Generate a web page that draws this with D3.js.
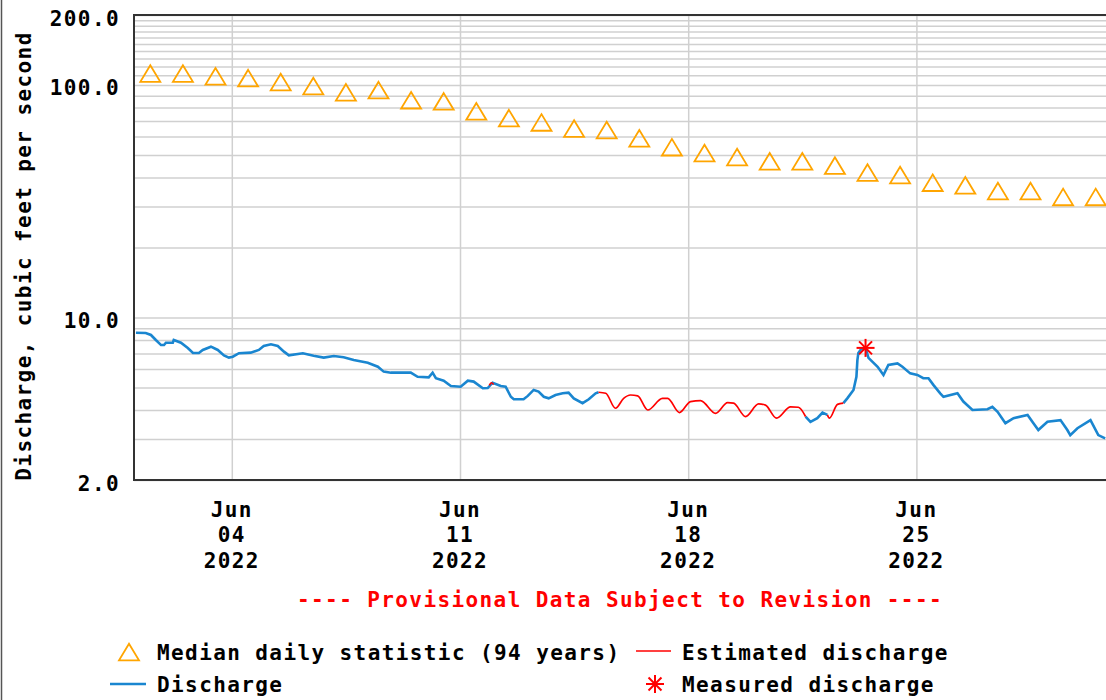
<!DOCTYPE html>
<html><head><meta charset="utf-8">
<script src="https://cdn.jsdelivr.net/npm/d3@7"></script>
<style>
body{margin:0;background:#fff;}
svg{display:block;}
text{font-family:"DejaVu Sans Mono",monospace;font-weight:bold;font-size:21px;letter-spacing:1.4px;}
</style>
</head><body>
<svg id="c" width="1106" height="700"></svg>
<script>
// ---------- data ----------
const yLabelValues = [2, 10, 100, 200];
const gridValues = [2,3,4,5,6,7,8,9,10,20,30,40,50,60,70,80,90,100,110,120,130,140,150,160,170,180,190,200];
const dateTicks = ["2022-06-04","2022-06-11","2022-06-18","2022-06-25"];
const startDate = "2022-06-01";
const endDate = "2022-07-01";

// median daily statistic (day offset from Jun 1, value cfs)
const medianDay = [0.5,1.5,2.5,3.5,4.5,5.5,6.5,7.5,8.5,9.5,10.5,11.5,12.5,13.5,14.5,15.5,16.5,17.5,18.5,19.5,20.5,21.5,22.5,23.5,24.5,25.5,26.5,27.5,28.5,29.5];
const medianVal = [112,112,109,107,103,99,93,95,86,85,77,72,69,65,64,59,54,51,49,47,47,45,42,41,38,37,35,35,33,33];

// discharge – null breaks the line
const qDay = [0.06,0.36,0.52,0.67,0.83,0.92,0.98,1.19,1.22,1.44,1.65,1.81,1.99,2.11,2.36,2.57,2.76,2.91,3.03,3.22,3.58,3.83,3.98,4.20,4.41,4.60,4.75,5.18,5.51,5.82,6.13,6.43,6.74,7.17,7.48,7.66,7.88,8.49,8.70,9.04,9.16,9.26,9.50,9.72,10.02,10.24,10.42,10.70,10.85,11.00,11.25,11.40,11.56,11.65,11.95,12.08,12.26,12.41,12.57,12.72,12.93,13.15,13.33,13.49,13.76,13.95,14.16,14.25,
  14.30,
  20.60,20.75,20.96,21.12,21.27,
  21.50,
  21.76,21.88,22.07,22.16,22.19,22.22,22.31,22.44,22.53,22.81,22.99,23.14,23.42,23.57,23.81,24.03,24.21,24.37,24.52,24.73,24.83,25.26,25.44,25.72,26.18,26.33,26.49,26.73,26.98,27.41,27.59,27.74,28.02,28.42,28.63,28.72,28.94,29.34,29.58,29.79];
const qVal = [8.60,8.58,8.41,8.00,7.61,7.61,7.79,7.79,8.00,7.79,7.39,7.04,7.04,7.25,7.49,7.25,6.87,6.72,6.78,7.02,7.06,7.25,7.54,7.67,7.54,7.13,6.87,7.02,6.85,6.72,6.83,6.74,6.56,6.39,6.14,5.85,5.79,5.79,5.56,5.53,5.79,5.48,5.35,5.07,5.04,5.35,5.30,4.96,4.97,5.24,5.07,5.04,4.56,4.45,4.45,4.60,4.88,4.80,4.56,4.49,4.64,4.72,4.75,4.49,4.28,4.45,4.72,4.77,
  null,
  3.75,3.56,3.69,3.90,3.81,
  null,
  4.28,4.49,4.88,5.56,6.56,7.04,7.32,7.39,6.70,6.14,5.66,6.25,6.35,6.14,5.75,5.66,5.48,5.48,5.13,4.72,4.56,4.72,4.35,4.00,4.03,4.13,3.93,3.51,3.69,3.81,3.51,3.28,3.56,3.62,3.28,3.12,3.34,3.62,3.12,3.02];

// estimated discharge
const estDay = [10.90,10.96,11.03,
  11.20,
  14.25,14.47,14.77,15.02,15.23,15.45,15.76,16.21,16.37,16.73,17.07,17.38,17.84,18.21,18.39,18.76,19.16,19.37,19.71,20.14,20.38,20.60,
  20.70,
  21.27,21.33,21.58,21.76];
const estVal = [5.10,5.24,5.15,
  null,
  4.77,4.72,4.07,4.49,4.64,4.60,4.00,4.49,4.49,3.90,4.35,4.39,3.87,4.30,4.28,3.75,4.25,4.20,3.69,4.13,4.11,3.75,
  null,
  3.81,3.69,4.23,4.28];

// measured discharge
const measuredDay = [22.44];
const measuredVal = [7.4];

// ---------- layout ----------
const svg = d3.select("#c");
const X0 = 134, X1 = 1112, Y0 = 15, Y1 = 480;
const C_MED = "#ffa500", C_Q = "#1a86d0", C_EST = "#ff0000", C_GRID = "#d0d0d0";

const x = d3.scaleUtc().domain([new Date(startDate), new Date(endDate)]).range([X0, X1]);
const y = d3.scaleLog().domain([2, 200]).range([Y1, Y0]);
const dayToDate = d => new Date(+new Date(startDate) + d * 864e5);

// left page border
svg.append("line").attr("x1",1.5).attr("x2",1.5).attr("y1",0).attr("y2",700)
  .attr("stroke","#555").attr("stroke-width",1.5);

// horizontal gridlines
const gy = svg.append("g").attr("transform",`translate(${X0},0)`)
  .call(d3.axisLeft(y).tickValues(gridValues).tickSize(-(X1-X0)).tickFormat(""));
gy.select(".domain").remove();
gy.selectAll("line").attr("stroke",C_GRID).attr("stroke-width",1.5);

// vertical gridlines
const gx = svg.append("g").attr("transform",`translate(0,${Y1})`)
  .call(d3.axisBottom(x).tickValues(dateTicks.map(d=>new Date(d))).tickSize(-(Y1-Y0)).tickFormat(""));
gx.select(".domain").remove();
gx.selectAll("line").attr("stroke",C_GRID).attr("stroke-width",1.5);

// frame
svg.append("rect").attr("x",X0).attr("y",Y0).attr("width",X1-X0).attr("height",Y1-Y0)
  .attr("fill","none").attr("stroke","#333").attr("stroke-width",2);

// y labels
svg.append("g").selectAll("text").data(yLabelValues).join("text")
  .attr("x",120).attr("y",d=>y(d)+10.5).attr("text-anchor","end")
  .text(d=>d3.format(".1f")(d));

// y title
svg.append("text").attr("transform","translate(31,256) rotate(-90)")
  .attr("text-anchor","middle").text("Discharge, cubic feet per second");

// x labels
const xl = svg.append("g").selectAll("g").data(dateTicks.map(d=>new Date(d))).join("g");
xl.append("text").attr("x",d=>x(d)).attr("y",517).attr("text-anchor","middle").text(d3.utcFormat("%b"));
xl.append("text").attr("x",d=>x(d)).attr("y",542).attr("text-anchor","middle").text(d3.utcFormat("%d"));
xl.append("text").attr("x",d=>x(d)).attr("y",568).attr("text-anchor","middle").text(d3.utcFormat("%Y"));

// clip
svg.append("clipPath").attr("id","clip").append("rect")
  .attr("x",X0).attr("y",Y0).attr("width",X1-X0).attr("height",Y1-Y0);
const plot = svg.append("g").attr("clip-path","url(#clip)");

// discharge line
const qData = qDay.map((d,i)=>({t:dayToDate(d), v:qVal[i]}));
const line = d3.line().defined(d=>d.v!=null).x(d=>x(d.t)).y(d=>y(d.v));
plot.append("path").attr("d",line(qData)).attr("fill","none")
  .attr("stroke",C_Q).attr("stroke-width",2.6).attr("stroke-linejoin","miter");

// estimated line
const eData = estDay.map((d,i)=>({t:dayToDate(d), v:estVal[i]}));
const smoothLine = d3.line().defined(d=>d.v!=null).x(d=>x(d.t)).y(d=>y(d.v)).curve(d3.curveMonotoneX);
plot.append("path").attr("d",smoothLine(eData)).attr("fill","none")
  .attr("stroke",C_EST).attr("stroke-width",1.7);

// median triangles
const tri = "M0,-8.3L10,8.3L-10,8.3Z";
plot.append("g").selectAll("path").data(medianDay.map((d,i)=>({t:dayToDate(d), v:medianVal[i]}))).join("path")
  .attr("transform",d=>`translate(${x(d.t)},${y(d.v)})`)
  .attr("d",tri).attr("fill","none").attr("stroke",C_MED).attr("stroke-width",1.8);

// measured asterisk
function asterisk(g, s){
  const a = [[-s,0,s,0],[0,-s,0,s],[-s*0.72,-s*0.72,s*0.72,s*0.72],[-s*0.72,s*0.72,s*0.72,-s*0.72]];
  g.selectAll("line").data(a).join("line")
    .attr("x1",d=>d[0]).attr("y1",d=>d[1]).attr("x2",d=>d[2]).attr("y2",d=>d[3])
    .attr("stroke",C_EST).attr("stroke-width",2);
}
measuredDay.forEach((d,i)=>{
  const g = svg.append("g").attr("transform",`translate(${x(dayToDate(d))},${y(measuredVal[i])})`);
  asterisk(g, 9);
});

// provisional note
svg.append("text").attr("x",620).attr("y",607).attr("text-anchor","middle")
  .attr("fill","#ff0000").text("---- Provisional Data Subject to Revision ----");

// legend
const lg = svg.append("g");
lg.append("path").attr("transform","translate(129,652)").attr("d",tri)
  .attr("fill","none").attr("stroke",C_MED).attr("stroke-width",1.8);
lg.append("text").attr("x",157).attr("y",660).text("Median daily statistic (94 years)");
lg.append("line").attr("x1",636).attr("x2",671).attr("y1",651).attr("y2",651).attr("stroke",C_EST).attr("stroke-width",1.6);
lg.append("text").attr("x",682).attr("y",660).text("Estimated discharge");
lg.append("line").attr("x1",110).attr("x2",146).attr("y1",684).attr("y2",684).attr("stroke",C_Q).attr("stroke-width",2.4);
lg.append("text").attr("x",157).attr("y",692).text("Discharge");
asterisk(lg.append("g").attr("transform","translate(655,684)"), 9);
lg.append("text").attr("x",682).attr("y",692).text("Measured discharge");
</script>
</body></html>
